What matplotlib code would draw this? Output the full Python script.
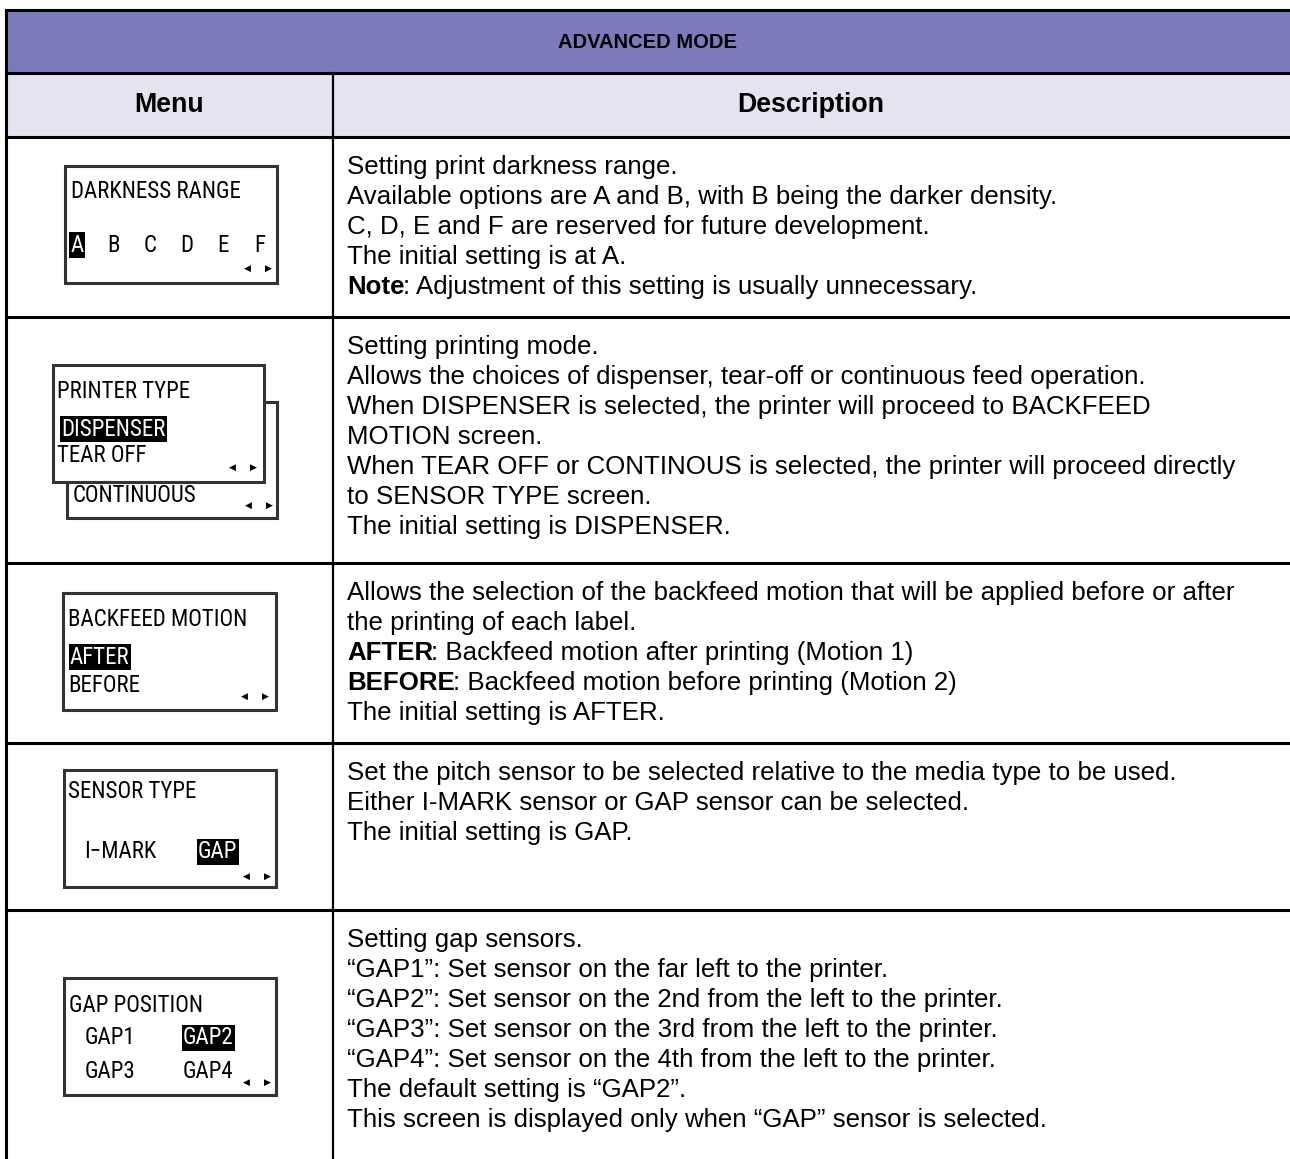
"""Advanced mode menu table, redrawn with matplotlib."""
import matplotlib
matplotlib.use("Agg")
import matplotlib.pyplot as plt
from matplotlib import font_manager
from matplotlib.patches import Rectangle

# --------------------------------------------------------------------------- #
# Content
# --------------------------------------------------------------------------- #
TITLE = "ADVANCED MODE"
COLUMNS = ["Menu", "Description"]

DARKNESS_TITLE = "DARKNESS RANGE"
DARKNESS_OPTIONS = ["A", "B", "C", "D", "E", "F"]
DARKNESS_SELECTED = "A"

PRINTER_TITLE = "PRINTER TYPE"
PRINTER_OPTIONS = ["DISPENSER", "TEAR OFF", "CONTINUOUS"]
PRINTER_SELECTED = "DISPENSER"

BACKFEED_TITLE = "BACKFEED MOTION"
BACKFEED_OPTIONS = ["AFTER", "BEFORE"]
BACKFEED_SELECTED = "AFTER"

SENSOR_TITLE = "SENSOR TYPE"
SENSOR_OPTIONS = ["I\u2212MARK", "GAP"]
SENSOR_SELECTED = "GAP"

GAP_TITLE = "GAP POSITION"
GAP_OPTIONS = ["GAP1", "GAP2", "GAP3", "GAP4"]
GAP_SELECTED = "GAP2"

# a (bold, rest) tuple marks a line with a bold lead-in
DESC_DARKNESS = [
    "Setting print darkness range.",
    "Available options are A and B, with B being the darker density.",
    "C, D, E and F are reserved for future development.",
    "The initial setting is at A.",
    ("Note", ": Adjustment of this setting is usually unnecessary."),
]
DESC_PRINTER = [
    "Setting printing mode.",
    "Allows the choices of dispenser, tear-off or continuous feed operation.",
    "When DISPENSER is selected, the printer will proceed to BACKFEED",
    "MOTION screen.",
    "When TEAR OFF or CONTINOUS is selected, the printer will proceed directly",
    "to SENSOR TYPE screen.",
    "The initial setting is DISPENSER.",
]
DESC_BACKFEED = [
    "Allows the selection of the backfeed motion that will be applied before or after",
    "the printing of each label.",
    ("AFTER", ": Backfeed motion after printing (Motion 1)"),
    ("BEFORE", ": Backfeed motion before printing (Motion 2)"),
    "The initial setting is AFTER.",
]
DESC_SENSOR = [
    "Set the pitch sensor to be selected relative to the media type to be used.",
    "Either I-MARK sensor or GAP sensor can be selected.",
    "The initial setting is GAP.",
]
DESC_GAP = [
    "Setting gap sensors.",
    "\u201cGAP1\u201d: Set sensor on the far left to the printer.",
    "\u201cGAP2\u201d: Set sensor on the 2nd from the left to the printer.",
    "\u201cGAP3\u201d: Set sensor on the 3rd from the left to the printer.",
    "\u201cGAP4\u201d: Set sensor on the 4th from the left to the printer.",
    "The default setting is \u201cGAP2\u201d.",
    "This screen is displayed only when \u201cGAP\u201d sensor is selected.",
]

# --------------------------------------------------------------------------- #
# Layout (pixel coordinates, y grows downward)
# --------------------------------------------------------------------------- #
W, H = 1290, 1159
# right and bottom edges of the table fall just outside the canvas
X_LEFT, X_SPLIT, X_RIGHT = 6, 333, 1292
Y_TOP, Y_TITLE, Y_HEAD = 10, 73, 137
ROW_BOUNDS = [137, 317, 563, 743, 910, 1161]
X_DESC = 347
FIRST_PAD = 30
LINE_H = 30
TEXT_SIZE = 18.6
HEAD_SIZE = 19.3
LCD_SIZE = 16.5
TITLE_BG = "#7b7bbb"
HEAD_BG = "#e4e4f0"
LCD_EDGE = "#333333"


def pick_font(candidates):
    names = {f.name for f in font_manager.fontManager.ttflist}
    for c in candidates:
        if c in names:
            return c
    return "DejaVu Sans"


BODY_FONT = pick_font(["Liberation Sans", "Arimo", "DejaVu Sans"])
LCD_FONT = pick_font(["Liberation Sans Narrow", "DejaVu Sans Condensed",
                      "Roboto Condensed", "Noto Sans CJK JP"])


def lcd_box(ax, x0, y0, x1, y1):
    ax.add_patch(Rectangle((x0, y0), x1 - x0, y1 - y0, facecolor="white",
                           edgecolor=LCD_EDGE, linewidth=2.2, zorder=2))


def lcd_text(ax, x, y, s, selected=False, ha="left"):
    kw = {}
    if selected:
        kw["bbox"] = dict(boxstyle="square,pad=0.06", facecolor="black",
                          edgecolor="none")
    ax.text(x, y, s, family=LCD_FONT, fontsize=LCD_SIZE, ha=ha, va="center",
            color="white" if selected else "black", zorder=4, **kw)


def lcd_arrows(ax, x, y):
    # little left/right scroll marks in the screen's lower right corner
    for dx, glyph in [(-21, "\u25c0"), (0, "\u25b6")]:
        ax.text(x + dx, y, glyph, family="DejaVu Sans", fontsize=6.5,
                ha="center", va="center", color="black", zorder=4)


def draw_desc(ax, row, lines):
    y0 = ROW_BOUNDS[row] + FIRST_PAD
    for i, line in enumerate(lines):
        y = y0 + i * LINE_H
        if isinstance(line, tuple):
            t = ax.text(X_DESC, y, line[0], family=BODY_FONT, fontsize=TEXT_SIZE,
                        fontweight="bold", ha="left", va="center")
            ax.annotate(line[1], xy=(1, 0), xycoords=t, xytext=(-1.2, 0),
                        textcoords="offset points", ha="left", va="bottom",
                        family=BODY_FONT, fontsize=TEXT_SIZE)
        else:
            ax.text(X_DESC, y, line, family=BODY_FONT, fontsize=TEXT_SIZE,
                    ha="left", va="center")


def main():
    fig = plt.figure(figsize=(W / 100, H / 100), dpi=100)
    ax = fig.add_axes([0, 0, 1, 1])
    ax.set_xlim(0, W)
    ax.set_ylim(H, 0)
    ax.axis("off")

    # header bands
    ax.add_patch(Rectangle((X_LEFT, Y_TOP), X_RIGHT - X_LEFT, Y_TITLE - Y_TOP,
                           facecolor=TITLE_BG, edgecolor="none"))
    ax.add_patch(Rectangle((X_LEFT, Y_TITLE), X_RIGHT - X_LEFT, Y_HEAD - Y_TITLE,
                           facecolor=HEAD_BG, edgecolor="none"))
    ax.text(647, (Y_TOP + Y_TITLE) / 2 + 1, TITLE,
            family=BODY_FONT, fontsize=14.5, fontweight="bold",
            ha="center", va="center")
    ax.text((X_LEFT + X_SPLIT) / 2, (Y_TITLE + Y_HEAD) / 2, COLUMNS[0],
            family=BODY_FONT, fontsize=HEAD_SIZE, fontweight="bold",
            ha="center", va="center")
    ax.text(811, (Y_TITLE + Y_HEAD) / 2, COLUMNS[1],
            family=BODY_FONT, fontsize=HEAD_SIZE, fontweight="bold",
            ha="center", va="center")

    # grid lines
    lw = 2.2
    for y in [Y_TOP, Y_TITLE] + ROW_BOUNDS:
        ax.plot([X_LEFT, X_RIGHT], [y, y], color="black", lw=lw,
                solid_capstyle="projecting")
    ax.plot([X_LEFT, X_LEFT], [Y_TOP, ROW_BOUNDS[-1]], color="black", lw=lw)
    ax.plot([X_SPLIT, X_SPLIT], [Y_TITLE, ROW_BOUNDS[-1]], color="black", lw=1.6)

    # screen 1: darkness range
    lcd_box(ax, 65, 166, 277, 283)
    lcd_text(ax, 71, 192, DARKNESS_TITLE)
    for i, opt in enumerate(DARKNESS_OPTIONS):
        lcd_text(ax, 77 + i * 36.6, 245, opt, selected=(opt == DARKNESS_SELECTED),
                 ha="center")
    lcd_arrows(ax, 268, 268)

    # screen 2: printer type (two stacked screens)
    lcd_box(ax, 67, 402, 277, 518)
    lcd_box(ax, 53, 365, 264, 482)
    lcd_text(ax, 57, 392, PRINTER_TITLE)
    lcd_text(ax, 61, 429, PRINTER_OPTIONS[0],
             selected=(PRINTER_OPTIONS[0] == PRINTER_SELECTED))
    lcd_text(ax, 57, 456, PRINTER_OPTIONS[1])
    lcd_arrows(ax, 253, 467)
    lcd_text(ax, 73, 495, PRINTER_OPTIONS[2])
    lcd_arrows(ax, 269, 505)

    # screen 3: backfeed motion
    lcd_box(ax, 63, 593, 276, 710)
    lcd_text(ax, 68, 620, BACKFEED_TITLE)
    for i, opt in enumerate(BACKFEED_OPTIONS):
        lcd_text(ax, 70 - 2 * i, 657 + i * 28, opt,
                 selected=(opt == BACKFEED_SELECTED))
    lcd_arrows(ax, 265, 696)

    # screen 4: sensor type
    lcd_box(ax, 64, 770, 276, 887)
    lcd_text(ax, 68, 791, SENSOR_TITLE)
    for i, opt in enumerate(SENSOR_OPTIONS):
        lcd_text(ax, 84 + i * 114, 852, opt, selected=(opt == SENSOR_SELECTED))
    lcd_arrows(ax, 267, 876)

    # screen 5: gap position
    lcd_box(ax, 64, 978, 276, 1095)
    lcd_text(ax, 69, 1005, GAP_TITLE)
    for i, opt in enumerate(GAP_OPTIONS):
        lcd_text(ax, 85 + (i % 2) * 98, 1038 + (i // 2) * 34, opt,
                 selected=(opt == GAP_SELECTED))
    lcd_arrows(ax, 267, 1082)

    # descriptions
    for row, lines in enumerate([DESC_DARKNESS, DESC_PRINTER, DESC_BACKFEED,
                                 DESC_SENSOR, DESC_GAP]):
        draw_desc(ax, row, lines)

    fig.savefig("out.png", dpi=100, facecolor="white")
    plt.close(fig)


if __name__ == "__main__":
    main()
